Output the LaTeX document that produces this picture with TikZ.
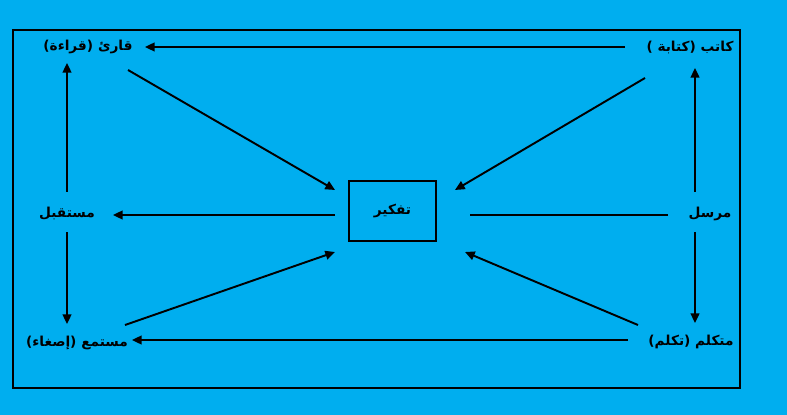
\documentclass[tikz,border=0pt]{standalone}
\usepackage{fontspec}
\newfontfamily\arabicfont[Script=Arabic]{DejaVu Sans}
\TeXXeTstate=1
\usepackage{tikz}
\usetikzlibrary{arrows.meta, calc}
\definecolor{skyblue}{RGB}{0,174,239}

\begin{document}
\begin{tikzpicture}[
	x=0.02cm, y=-0.02cm,
	>={Triangle[length=5.5pt, width=5pt]},
	% Style for the Arabic labels
	lbl/.style={inner sep=0pt, font=\arabicfont\bfseries\fontsize{7.8}{10}\selectfont},
	% Style for the central box
	box/.style={rectangle, draw, line width=1.1pt, minimum width=1.74cm, minimum height=1.2cm, inner sep=0pt,
		font=\arabicfont\bfseries\fontsize{7.8}{10}\selectfont},
	% Style for connectors
	link/.style={line width=1.1pt}
	]
	
	% 0. Background and frame
	\fill[skyblue] (0,0) rectangle (787,415);
	\draw[line width=1.3pt] (13,30) rectangle (740,388);
	
	% 1. Corner and side labels
	\node[lbl] (reader) at (88,47) {\beginR قارئ (قراءة)\endR};
	\node[lbl] (writer) at (690,47) {\beginR كاتب (كتابة )\endR};
	\node[lbl] (receiver) at (67,214) {\beginR مستقبل\endR};
	\node[lbl] (sender) at (710,214) {\beginR مرسل\endR};
	\node[lbl] (listener) at (77,343) {\beginR مستمع (إصغاء)\endR};
	\node[lbl] (speaker) at (691,342) {\beginR متكلم (تكلم)\endR};
	
	% 2. Central box
	\node[box] (think) at (392.5,211) {\raisebox{-2pt}{\beginR تفكير\endR}};
	
	% 3. Horizontal lines
	\draw[link, ->] ($(writer)+(-65,0)$) -- ($(reader)+(57,0)$);
	\draw[link, ->] ($(think)+(-57.5,4)$) -- ($(receiver)+(46,1)$);
	\draw[link] ($(sender)+(-42,1)$) -- ($(think)+(77.5,4)$);
	\draw[link, ->] ($(speaker)+(-63,-2)$) -- ($(listener)+(55,-3)$);
	
	% 4. Vertical lines
	\draw[link, ->] ($(receiver)+(0,-22)$) -- ($(receiver |- reader)+(0,16)$);
	\draw[link, ->] ($(receiver)+(0,18)$) -- ($(receiver |- listener)+(0,-19)$);
	\draw[link, ->] ($(sender)+(-15,-22)$) -- ($(sender |- writer)+(-15,21)$);
	\draw[link, ->] ($(sender)+(-15,18)$) -- ($(sender |- speaker)+(-15,-19)$);
	
	% 5. Diagonals into the box
	\draw[link, ->] ($(reader)+(40,23)$) -- ($(think)+(-57.5,-21)$);
	\draw[link, ->] ($(writer)+(-45,31)$) -- ($(think)+(62.5,-21)$);
	\draw[link, ->] ($(listener)+(48,-18)$) -- ($(think)+(-57.5,41)$);
	\draw[link, ->] ($(speaker)+(-53,-17)$) -- ($(think)+(72.5,41)$);
	
\end{tikzpicture}
\end{document}
